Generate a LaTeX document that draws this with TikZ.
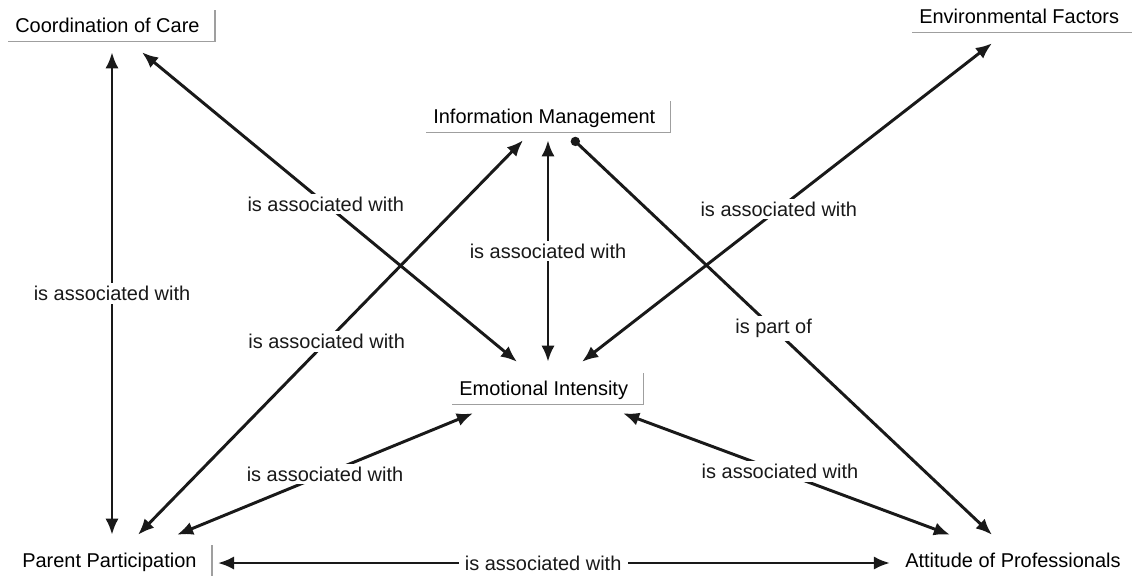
\documentclass[tikz,border=0pt]{standalone}
\usepackage{fontspec}
\setmainfont{Liberation Sans}
\usetikzlibrary{arrows.meta}

\tikzstyle{concept}=[anchor=base west, inner xsep=5pt, inner ysep=0pt, text height=15.6pt, text depth=6.4pt]
\tikzstyle{frame}=[gray!75, line width=1.1pt]
\tikzstyle{assoc}=[line width=2.1pt, black!90, {Latex[length=11.5pt,width=9.5pt]}-{Latex[length=11.5pt,width=9.5pt]}]
\tikzstyle{part}=[line width=2.1pt, black!90, {Circle[length=6.5pt]}-{Latex[length=11.5pt,width=9.5pt]}]
\tikzstyle{rel}=[fill=white, inner xsep=4.5pt, inner ysep=2pt]

\begin{document}
\begin{tikzpicture}[x=0.025cm, y=-0.025cm, font=\fontsize{14.2}{17}\selectfont]
      \useasboundingbox (0,0) rectangle (1132,575);

      \node[concept] (care) at (8, 32) {Coordination of Care};
      \node[concept] (env) at (912, 23) {Environmental Factors};
      \node[concept] (info) at (426, 123) {Information Management};
      \node[concept] (emo) at (452, 395) {Emotional Intensity};
      \node[concept] (parent) at (15, 567) {Parent Participation};
      \node[concept] (att) at (898, 567) {Attitude of Professionals};

      \foreach \n in {care, env, info, emo, parent, att}
        \draw[frame] (\n.south west) -- ([xshift=5.7pt]\n.south east) -- ([xshift=5.7pt]\n.north east);

      \draw[assoc] ([shift={(104,11)}]care.south west) to node[rel] {is associated with} ([shift={(97,-10)}]parent.north west);
      \draw[assoc] ([shift={(134,11)}]care.south west) to node[rel, pos=0.49] {is associated with} ([shift={(65,-11)}]emo.north west);
      \draw[assoc] ([shift={(122,8)}]info.south west) to node[rel] {is associated with} ([shift={(96,-11)}]emo.north west);
      \draw[part] ([shift={(146,6)}]info.south west) to node[rel, pos=0.48] {is part of} ([shift={(94,-10)}]att.north west);
      \draw[assoc] ([shift={(80,11)}]env.south west) to node[rel, pos=0.52] {is associated with} ([shift={(130,-11)}]emo.north west);
      \draw[assoc] ([shift={(123,-10)}]parent.north west) to node[rel, pos=0.49] {is associated with} ([shift={(97,8)}]info.south west);
      \draw[assoc] ([shift={(162,-10)}]parent.north west) to node[rel] {is associated with} ([shift={(21,9)}]emo.south west);
      \draw[assoc] ([shift={(171,9)}]emo.south west) to node[rel, pos=0.48] {is associated with} ([shift={(52,-10)}]att.north west);
      \draw[assoc] ([shift={(14,-4)}]parent.base east) to node[rel, pos=0.484] {is associated with} ([shift={(-8,-4)}]att.base west);
\end{tikzpicture}
\end{document}
